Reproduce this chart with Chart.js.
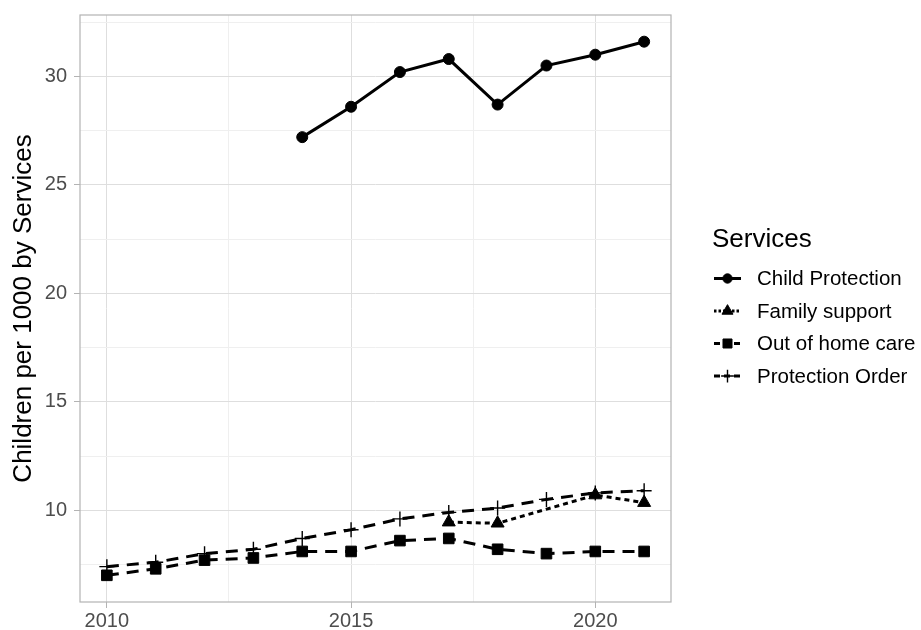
<!DOCTYPE html>
<html>
<head>
<meta charset="utf-8">
<script src="https://cdn.jsdelivr.net/npm/chart.js@4"></script>
<style>
  body { margin: 0; background: #fff; }
  canvas { display: block; }
</style>
</head>
<body>
<canvas id="chart1" width="921" height="630"></canvas>
<script>
const years = [2010, 2011, 2012, 2013, 2014, 2015, 2016, 2017, 2018, 2019, 2020, 2021];
const childProtection = [null, null, null, null, 27.2, 28.6, 30.2, 30.8, 28.7, 30.5, 31.0, 31.6];
const familySupport = [null, null, null, null, null, null, null, 9.45, 9.4, null, 10.7, 10.35];
const outOfHomeCare = [7.0, 7.3, 7.7, 7.8, 8.1, 8.1, 8.6, 8.7, 8.2, 8.0, 8.1, 8.1];
const protectionOrder = [7.4, 7.6, 8.0, 8.2, 8.7, 9.1, 9.6, 9.9, 10.1, 10.5, 10.8, 10.9];
const xTicks = [2010, 2012.5, 2015, 2017.5, 2020];
const yTicks = [7.5, 10, 12.5, 15, 17.5, 20, 22.5, 25, 27.5, 30, 32.5];

const seriesNames = ['Child Protection', 'Family support', 'Out of home care', 'Protection Order'];
const seriesValues = [childProtection, familySupport, outOfHomeCare, protectionOrder];
const styles = [
    { dash: [], point: 'circle', r: 5.5, bw: 1 },
    { dash: [5, 4], point: 'triangle', r: 7.5, bw: 1 },
    { dash: [12, 8], point: 'rect', r: 7.5, bw: 1 },
    { dash: [12, 8], point: 'cross', r: 7.5, bw: 1.4 }
];

const font = "'Liberation Sans', Arial, sans-serif";

const datasets = seriesValues.map((vals, i) => ({
    label: seriesNames[i],
    data: years.map((y, j) => ({ x: y, y: vals[j] })),
    borderColor: '#000',
    backgroundColor: '#000',
    borderWidth: 3,
    borderDash: styles[i].dash,
    pointStyle: styles[i].point,
    pointRadius: styles[i].r,
    pointBorderWidth: styles[i].bw,
    pointHoverRadius: styles[i].r,
    spanGaps: true,
    order: 4 - i,
    tension: 0
}));

const isMajor = v => Math.abs(v % 5) < 1e-9;

// panel border + legend drawn by hand
const extras = {
    id: 'extras',
    afterDraw(chart) {
        const c = chart.ctx;
        const a = chart.chartArea;
        c.save();
        c.strokeStyle = '#b3b3b3';
        c.lineWidth = 1.2;
        c.strokeRect(a.left, a.top, a.right - a.left, a.bottom - a.top);

        c.fillStyle = '#000';
        c.font = '26px ' + font;
        c.textBaseline = 'alphabetic';
        c.fillText('Services', 712, 247);
        c.font = '20.5px ' + font;
        seriesNames.forEach((name, i) => {
            const y = 278.5 + i * 32.5;
            c.strokeStyle = '#000';
            c.lineWidth = 3;
            c.setLineDash(styles[i].dash.map(d => d / 2));
            c.beginPath();
            c.moveTo(714, y);
            c.lineTo(741, y);
            c.stroke();
            c.setLineDash([]);
            c.lineWidth = styles[i].bw;
            Chart.helpers.drawPoint(c, { pointStyle: styles[i].point, radius: styles[i].r * 0.85, rotation: 0, borderWidth: styles[i].bw }, 727.5, y);
            c.fillText(name, 757, y + 6.5);
        });
        c.restore();
    }
};

let configurations = {
    type: 'line',
    data: { datasets: datasets },
    options: {
        responsive: false,
        animation: false,
        layout: { padding: { top: 15, right: 250, left: 0, bottom: 0 } },
        scales: {
            x: {
                type: 'linear',
                min: 2009.45,
                max: 2021.55,
                afterBuildTicks: s => { s.ticks = xTicks.map(v => ({ value: v })); },
                afterFit: s => { s.height = 28; s.paddingLeft = 0; s.paddingRight = 0; },
                grid: {
                    color: ctx => isMajor(ctx.tick.value) ? '#dedede' : '#efefef',
                    tickColor: ctx => isMajor(ctx.tick.value) ? '#b3b3b3' : 'rgba(0,0,0,0)',
                    tickLength: 6,
                    lineWidth: 1
                },
                border: { display: false },
                ticks: {
                    autoSkip: false,
                    maxRotation: 0,
                    padding: 1,
                    color: '#4d4d4d',
                    font: { family: font, size: 20 },
                    callback: v => isMajor(v) ? String(v) : ''
                }
            },
            y: {
                min: 5.77,
                max: 32.83,
                afterBuildTicks: s => { s.ticks = yTicks.map(v => ({ value: v })); },
                afterFit: s => { s.width = 80; s.paddingTop = 0; s.paddingBottom = 0; },
                grid: {
                    color: ctx => isMajor(ctx.tick.value) ? '#dedede' : '#efefef',
                    tickColor: ctx => isMajor(ctx.tick.value) ? '#b3b3b3' : 'rgba(0,0,0,0)',
                    tickLength: 6,
                    lineWidth: 1
                },
                border: { display: false },
                title: {
                    display: true,
                    text: 'Children per 1000 by Services',
                    color: '#000',
                    font: { family: font, size: 26 },
                    padding: { top: 8, bottom: 0 }
                },
                ticks: {
                    autoSkip: false,
                    padding: 7,
                    color: '#4d4d4d',
                    font: { family: font, size: 20 },
                    callback: v => isMajor(v) ? String(v) : ''
                }
            }
        },
        plugins: {
            legend: { display: false },
            tooltip: { enabled: false }
        }
    },
    plugins: [extras]
};

const contexte = document.querySelector('#chart1').getContext('2d');
let graphique = new Chart(contexte, configurations);
</script>
</body>
</html>
